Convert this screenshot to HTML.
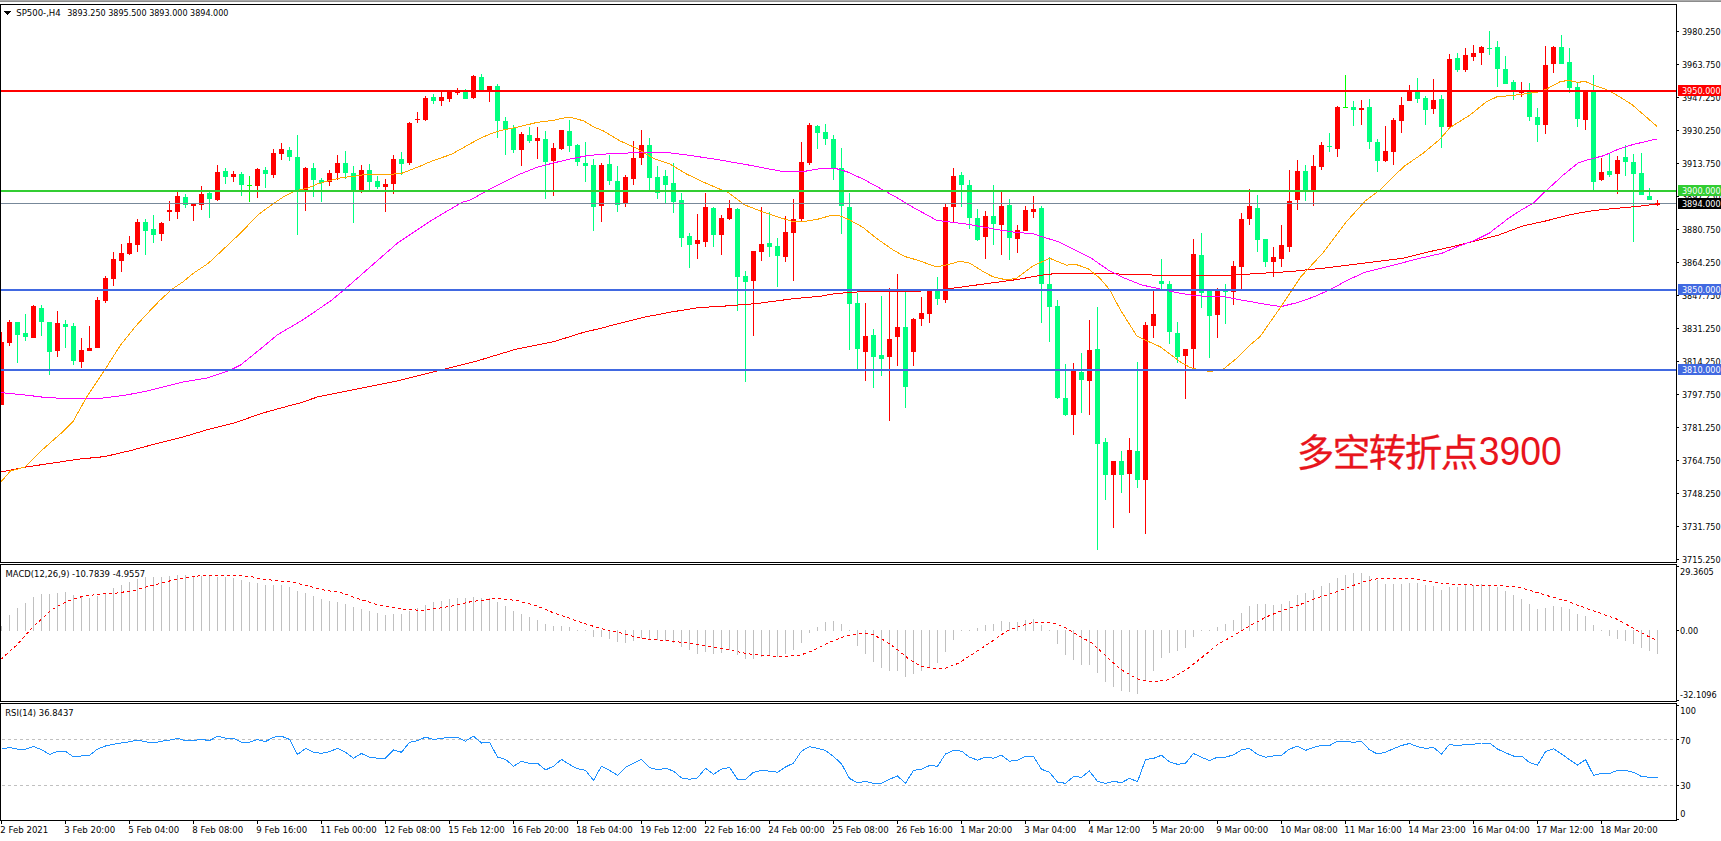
<!DOCTYPE html><html><head><meta charset="utf-8"><title>SP500 H4</title>
<style>html,body{margin:0;padding:0;background:#fff;overflow:hidden}svg{display:block}text{white-space:pre}</style></head><body>
<svg width="1721" height="841" viewBox="0 0 1721 841">
<rect x="0" y="0" width="1721" height="841" fill="#fff"/>
<rect x="0" y="0" width="1721" height="1" fill="#ababab"/>
<rect x="0" y="1" width="1721" height="1" fill="#8c8c8c"/>
<defs><clipPath id="cm"><rect x="1" y="5" width="1675" height="557"/></clipPath><clipPath id="cd"><rect x="1" y="565" width="1675" height="136"/></clipPath><clipPath id="cr"><rect x="1" y="704" width="1675" height="116"/></clipPath></defs>
<g clip-path="url(#cm)" shape-rendering="crispEdges">
<rect x="1" y="332" width="1" height="73" fill="#ff0000"/>
<rect x="-1" y="342" width="5" height="63" fill="#ff0000"/>
<rect x="9" y="320" width="1" height="26" fill="#ff0000"/>
<rect x="7" y="322" width="5" height="21" fill="#ff0000"/>
<rect x="17" y="322" width="1" height="41" fill="#00ff7f"/>
<rect x="15" y="322" width="5" height="13" fill="#00ff7f"/>
<rect x="25" y="314" width="1" height="27" fill="#00ff7f"/>
<rect x="23" y="333" width="5" height="4" fill="#00ff7f"/>
<rect x="33" y="305" width="1" height="33" fill="#ff0000"/>
<rect x="31" y="306" width="5" height="32" fill="#ff0000"/>
<rect x="41" y="305" width="1" height="31" fill="#00ff7f"/>
<rect x="39" y="308" width="5" height="14" fill="#00ff7f"/>
<rect x="49" y="322" width="1" height="53" fill="#00ff7f"/>
<rect x="47" y="322" width="5" height="30" fill="#00ff7f"/>
<rect x="57" y="311" width="1" height="46" fill="#ff0000"/>
<rect x="55" y="323" width="5" height="28" fill="#ff0000"/>
<rect x="65" y="320" width="1" height="28" fill="#00ff7f"/>
<rect x="63" y="324" width="5" height="3" fill="#00ff7f"/>
<rect x="73" y="323" width="1" height="42" fill="#00ff7f"/>
<rect x="71" y="326" width="5" height="35" fill="#00ff7f"/>
<rect x="81" y="338" width="1" height="30" fill="#ff0000"/>
<rect x="79" y="350" width="5" height="12" fill="#ff0000"/>
<rect x="89" y="326" width="1" height="25" fill="#ff0000"/>
<rect x="87" y="348" width="5" height="3" fill="#ff0000"/>
<rect x="97" y="297" width="1" height="51" fill="#ff0000"/>
<rect x="95" y="300" width="5" height="48" fill="#ff0000"/>
<rect x="105" y="276" width="1" height="27" fill="#ff0000"/>
<rect x="103" y="278" width="5" height="23" fill="#ff0000"/>
<rect x="113" y="252" width="1" height="34" fill="#ff0000"/>
<rect x="111" y="259" width="5" height="20" fill="#ff0000"/>
<rect x="121" y="244" width="1" height="28" fill="#ff0000"/>
<rect x="119" y="253" width="5" height="8" fill="#ff0000"/>
<rect x="129" y="236" width="1" height="19" fill="#ff0000"/>
<rect x="127" y="243" width="5" height="11" fill="#ff0000"/>
<rect x="137" y="219" width="1" height="33" fill="#ff0000"/>
<rect x="135" y="222" width="5" height="23" fill="#ff0000"/>
<rect x="145" y="219" width="1" height="36" fill="#00ff7f"/>
<rect x="143" y="222" width="5" height="9" fill="#00ff7f"/>
<rect x="153" y="215" width="1" height="28" fill="#00ff7f"/>
<rect x="151" y="229" width="5" height="6" fill="#00ff7f"/>
<rect x="161" y="222" width="1" height="19" fill="#ff0000"/>
<rect x="159" y="223" width="5" height="11" fill="#ff0000"/>
<rect x="169" y="201" width="1" height="20" fill="#ff0000"/>
<rect x="167" y="210" width="5" height="2" fill="#ff0000"/>
<rect x="177" y="192" width="1" height="27" fill="#ff0000"/>
<rect x="175" y="196" width="5" height="16" fill="#ff0000"/>
<rect x="185" y="194" width="1" height="14" fill="#00ff7f"/>
<rect x="183" y="197" width="5" height="8" fill="#00ff7f"/>
<rect x="193" y="204" width="1" height="17" fill="#ff0000"/>
<rect x="191" y="204" width="5" height="2" fill="#ff0000"/>
<rect x="201" y="186" width="1" height="24" fill="#ff0000"/>
<rect x="199" y="194" width="5" height="11" fill="#ff0000"/>
<rect x="209" y="192" width="1" height="26" fill="#00ff7f"/>
<rect x="207" y="193" width="5" height="6" fill="#00ff7f"/>
<rect x="217" y="165" width="1" height="36" fill="#ff0000"/>
<rect x="215" y="172" width="5" height="28" fill="#ff0000"/>
<rect x="225" y="168" width="1" height="16" fill="#00ff7f"/>
<rect x="223" y="171" width="5" height="6" fill="#00ff7f"/>
<rect x="233" y="171" width="1" height="11" fill="#ff0000"/>
<rect x="231" y="174" width="5" height="3" fill="#ff0000"/>
<rect x="241" y="172" width="1" height="24" fill="#00ff7f"/>
<rect x="239" y="174" width="5" height="11" fill="#00ff7f"/>
<rect x="249" y="176" width="1" height="26" fill="#00ff00"/>
<rect x="247" y="185" width="5" height="1" fill="#00ff00"/>
<rect x="257" y="168" width="1" height="30" fill="#ff0000"/>
<rect x="255" y="169" width="5" height="17" fill="#ff0000"/>
<rect x="265" y="167" width="1" height="21" fill="#00ff7f"/>
<rect x="263" y="170" width="5" height="4" fill="#00ff7f"/>
<rect x="273" y="149" width="1" height="29" fill="#ff0000"/>
<rect x="271" y="153" width="5" height="22" fill="#ff0000"/>
<rect x="281" y="143" width="1" height="17" fill="#ff0000"/>
<rect x="279" y="149" width="5" height="5" fill="#ff0000"/>
<rect x="289" y="147" width="1" height="14" fill="#00ff7f"/>
<rect x="287" y="150" width="5" height="7" fill="#00ff7f"/>
<rect x="297" y="135" width="1" height="100" fill="#00ff7f"/>
<rect x="295" y="157" width="5" height="33" fill="#00ff7f"/>
<rect x="305" y="167" width="1" height="44" fill="#ff0000"/>
<rect x="303" y="168" width="5" height="22" fill="#ff0000"/>
<rect x="313" y="163" width="1" height="34" fill="#00ff7f"/>
<rect x="311" y="168" width="5" height="12" fill="#00ff7f"/>
<rect x="321" y="178" width="1" height="24" fill="#00ff7f"/>
<rect x="319" y="180" width="5" height="3" fill="#00ff7f"/>
<rect x="329" y="170" width="1" height="16" fill="#ff0000"/>
<rect x="327" y="173" width="5" height="9" fill="#ff0000"/>
<rect x="337" y="155" width="1" height="25" fill="#ff0000"/>
<rect x="335" y="163" width="5" height="10" fill="#ff0000"/>
<rect x="345" y="151" width="1" height="28" fill="#00ff7f"/>
<rect x="343" y="163" width="5" height="10" fill="#00ff7f"/>
<rect x="353" y="166" width="1" height="57" fill="#00ff7f"/>
<rect x="351" y="173" width="5" height="18" fill="#00ff7f"/>
<rect x="361" y="165" width="1" height="28" fill="#ff0000"/>
<rect x="359" y="170" width="5" height="20" fill="#ff0000"/>
<rect x="369" y="164" width="1" height="26" fill="#00ff7f"/>
<rect x="367" y="170" width="5" height="12" fill="#00ff7f"/>
<rect x="377" y="176" width="1" height="13" fill="#00ff7f"/>
<rect x="375" y="181" width="5" height="6" fill="#00ff7f"/>
<rect x="385" y="179" width="1" height="33" fill="#ff0000"/>
<rect x="383" y="184" width="5" height="3" fill="#ff0000"/>
<rect x="393" y="155" width="1" height="39" fill="#ff0000"/>
<rect x="391" y="159" width="5" height="25" fill="#ff0000"/>
<rect x="401" y="152" width="1" height="23" fill="#00ff7f"/>
<rect x="399" y="159" width="5" height="5" fill="#00ff7f"/>
<rect x="409" y="122" width="1" height="43" fill="#ff0000"/>
<rect x="407" y="123" width="5" height="40" fill="#ff0000"/>
<rect x="417" y="112" width="1" height="11" fill="#ff0000"/>
<rect x="415" y="119" width="5" height="1" fill="#ff0000"/>
<rect x="425" y="96" width="1" height="25" fill="#ff0000"/>
<rect x="423" y="98" width="5" height="22" fill="#ff0000"/>
<rect x="433" y="94" width="1" height="10" fill="#00ff7f"/>
<rect x="431" y="97" width="5" height="4" fill="#00ff7f"/>
<rect x="441" y="92" width="1" height="14" fill="#ff0000"/>
<rect x="439" y="97" width="5" height="4" fill="#ff0000"/>
<rect x="449" y="91" width="1" height="11" fill="#ff0000"/>
<rect x="447" y="92" width="5" height="7" fill="#ff0000"/>
<rect x="457" y="88" width="1" height="7" fill="#ff0000"/>
<rect x="455" y="91" width="5" height="2" fill="#ff0000"/>
<rect x="465" y="89" width="1" height="10" fill="#00ff7f"/>
<rect x="463" y="92" width="5" height="7" fill="#00ff7f"/>
<rect x="473" y="75" width="1" height="24" fill="#ff0000"/>
<rect x="471" y="76" width="5" height="22" fill="#ff0000"/>
<rect x="481" y="74" width="1" height="16" fill="#00ff7f"/>
<rect x="479" y="77" width="5" height="13" fill="#00ff7f"/>
<rect x="489" y="86" width="1" height="16" fill="#ff0000"/>
<rect x="487" y="86" width="5" height="5" fill="#ff0000"/>
<rect x="497" y="84" width="1" height="54" fill="#00ff7f"/>
<rect x="495" y="86" width="5" height="35" fill="#00ff7f"/>
<rect x="505" y="117" width="1" height="38" fill="#00ff7f"/>
<rect x="503" y="121" width="5" height="8" fill="#00ff7f"/>
<rect x="513" y="125" width="1" height="28" fill="#00ff7f"/>
<rect x="511" y="128" width="5" height="22" fill="#00ff7f"/>
<rect x="521" y="132" width="1" height="34" fill="#ff0000"/>
<rect x="519" y="134" width="5" height="16" fill="#ff0000"/>
<rect x="529" y="127" width="1" height="16" fill="#00ff7f"/>
<rect x="527" y="135" width="5" height="6" fill="#00ff7f"/>
<rect x="537" y="127" width="1" height="32" fill="#ff0000"/>
<rect x="535" y="138" width="5" height="3" fill="#ff0000"/>
<rect x="545" y="131" width="1" height="68" fill="#00ff7f"/>
<rect x="543" y="139" width="5" height="23" fill="#00ff7f"/>
<rect x="553" y="143" width="1" height="53" fill="#ff0000"/>
<rect x="551" y="148" width="5" height="13" fill="#ff0000"/>
<rect x="561" y="130" width="1" height="20" fill="#ff0000"/>
<rect x="559" y="130" width="5" height="19" fill="#ff0000"/>
<rect x="569" y="120" width="1" height="32" fill="#00ff7f"/>
<rect x="567" y="131" width="5" height="15" fill="#00ff7f"/>
<rect x="577" y="144" width="1" height="22" fill="#00ff7f"/>
<rect x="575" y="145" width="5" height="17" fill="#00ff7f"/>
<rect x="585" y="142" width="1" height="40" fill="#00ff7f"/>
<rect x="583" y="163" width="5" height="3" fill="#00ff7f"/>
<rect x="593" y="159" width="1" height="72" fill="#00ff7f"/>
<rect x="591" y="165" width="5" height="42" fill="#00ff7f"/>
<rect x="601" y="163" width="1" height="59" fill="#ff0000"/>
<rect x="599" y="165" width="5" height="41" fill="#ff0000"/>
<rect x="609" y="155" width="1" height="30" fill="#00ff7f"/>
<rect x="607" y="164" width="5" height="17" fill="#00ff7f"/>
<rect x="617" y="166" width="1" height="46" fill="#00ff7f"/>
<rect x="615" y="181" width="5" height="24" fill="#00ff7f"/>
<rect x="625" y="175" width="1" height="32" fill="#ff0000"/>
<rect x="623" y="177" width="5" height="27" fill="#ff0000"/>
<rect x="633" y="141" width="1" height="44" fill="#ff0000"/>
<rect x="631" y="158" width="5" height="21" fill="#ff0000"/>
<rect x="641" y="130" width="1" height="35" fill="#ff0000"/>
<rect x="639" y="145" width="5" height="13" fill="#ff0000"/>
<rect x="649" y="138" width="1" height="52" fill="#00ff7f"/>
<rect x="647" y="145" width="5" height="33" fill="#00ff7f"/>
<rect x="657" y="166" width="1" height="33" fill="#00ff7f"/>
<rect x="655" y="177" width="5" height="16" fill="#00ff7f"/>
<rect x="665" y="170" width="1" height="34" fill="#00ff7f"/>
<rect x="663" y="176" width="5" height="9" fill="#00ff7f"/>
<rect x="673" y="163" width="1" height="50" fill="#00ff7f"/>
<rect x="671" y="183" width="5" height="19" fill="#00ff7f"/>
<rect x="681" y="193" width="1" height="54" fill="#00ff7f"/>
<rect x="679" y="200" width="5" height="38" fill="#00ff7f"/>
<rect x="689" y="233" width="1" height="35" fill="#00ff7f"/>
<rect x="687" y="236" width="5" height="9" fill="#00ff7f"/>
<rect x="697" y="214" width="1" height="45" fill="#ff0000"/>
<rect x="695" y="240" width="5" height="4" fill="#ff0000"/>
<rect x="705" y="193" width="1" height="54" fill="#ff0000"/>
<rect x="703" y="207" width="5" height="35" fill="#ff0000"/>
<rect x="713" y="207" width="1" height="40" fill="#00ff7f"/>
<rect x="711" y="208" width="5" height="27" fill="#00ff7f"/>
<rect x="721" y="215" width="1" height="40" fill="#ff0000"/>
<rect x="719" y="218" width="5" height="17" fill="#ff0000"/>
<rect x="729" y="200" width="1" height="20" fill="#ff0000"/>
<rect x="727" y="208" width="5" height="11" fill="#ff0000"/>
<rect x="737" y="208" width="1" height="103" fill="#00ff7f"/>
<rect x="735" y="209" width="5" height="68" fill="#00ff7f"/>
<rect x="745" y="271" width="1" height="111" fill="#00ff7f"/>
<rect x="743" y="276" width="5" height="6" fill="#00ff7f"/>
<rect x="753" y="251" width="1" height="85" fill="#ff0000"/>
<rect x="751" y="251" width="5" height="30" fill="#ff0000"/>
<rect x="761" y="207" width="1" height="54" fill="#ff0000"/>
<rect x="759" y="244" width="5" height="8" fill="#ff0000"/>
<rect x="769" y="212" width="1" height="45" fill="#00ff7f"/>
<rect x="767" y="243" width="5" height="4" fill="#00ff7f"/>
<rect x="777" y="238" width="1" height="49" fill="#00ff7f"/>
<rect x="775" y="246" width="5" height="10" fill="#00ff7f"/>
<rect x="785" y="216" width="1" height="46" fill="#ff0000"/>
<rect x="783" y="232" width="5" height="25" fill="#ff0000"/>
<rect x="793" y="199" width="1" height="82" fill="#ff0000"/>
<rect x="791" y="219" width="5" height="14" fill="#ff0000"/>
<rect x="801" y="142" width="1" height="79" fill="#ff0000"/>
<rect x="799" y="162" width="5" height="57" fill="#ff0000"/>
<rect x="809" y="123" width="1" height="42" fill="#ff0000"/>
<rect x="807" y="125" width="5" height="38" fill="#ff0000"/>
<rect x="817" y="125" width="1" height="24" fill="#00ff7f"/>
<rect x="815" y="126" width="5" height="7" fill="#00ff7f"/>
<rect x="825" y="124" width="1" height="21" fill="#00ff7f"/>
<rect x="823" y="132" width="5" height="7" fill="#00ff7f"/>
<rect x="833" y="135" width="1" height="45" fill="#00ff7f"/>
<rect x="831" y="139" width="5" height="30" fill="#00ff7f"/>
<rect x="841" y="148" width="1" height="86" fill="#00ff7f"/>
<rect x="839" y="168" width="5" height="38" fill="#00ff7f"/>
<rect x="849" y="193" width="1" height="157" fill="#00ff7f"/>
<rect x="847" y="207" width="5" height="97" fill="#00ff7f"/>
<rect x="857" y="293" width="1" height="76" fill="#00ff7f"/>
<rect x="855" y="303" width="5" height="46" fill="#00ff7f"/>
<rect x="865" y="303" width="1" height="78" fill="#ff0000"/>
<rect x="863" y="336" width="5" height="16" fill="#ff0000"/>
<rect x="873" y="329" width="1" height="59" fill="#00ff7f"/>
<rect x="871" y="335" width="5" height="22" fill="#00ff7f"/>
<rect x="881" y="296" width="1" height="80" fill="#00ff7f"/>
<rect x="879" y="355" width="5" height="4" fill="#00ff7f"/>
<rect x="889" y="288" width="1" height="133" fill="#ff0000"/>
<rect x="887" y="339" width="5" height="18" fill="#ff0000"/>
<rect x="897" y="274" width="1" height="92" fill="#ff0000"/>
<rect x="895" y="327" width="5" height="10" fill="#ff0000"/>
<rect x="905" y="292" width="1" height="116" fill="#00ff7f"/>
<rect x="903" y="327" width="5" height="60" fill="#00ff7f"/>
<rect x="913" y="318" width="1" height="48" fill="#ff0000"/>
<rect x="911" y="319" width="5" height="33" fill="#ff0000"/>
<rect x="921" y="297" width="1" height="29" fill="#ff0000"/>
<rect x="919" y="313" width="5" height="6" fill="#ff0000"/>
<rect x="929" y="291" width="1" height="32" fill="#ff0000"/>
<rect x="927" y="291" width="5" height="23" fill="#ff0000"/>
<rect x="937" y="277" width="1" height="28" fill="#00ff7f"/>
<rect x="935" y="291" width="5" height="8" fill="#00ff7f"/>
<rect x="945" y="204" width="1" height="99" fill="#ff0000"/>
<rect x="943" y="207" width="5" height="93" fill="#ff0000"/>
<rect x="953" y="168" width="1" height="54" fill="#ff0000"/>
<rect x="951" y="176" width="5" height="31" fill="#ff0000"/>
<rect x="961" y="172" width="1" height="35" fill="#00ff7f"/>
<rect x="959" y="175" width="5" height="10" fill="#00ff7f"/>
<rect x="969" y="180" width="1" height="49" fill="#00ff7f"/>
<rect x="967" y="185" width="5" height="33" fill="#00ff7f"/>
<rect x="977" y="209" width="1" height="32" fill="#00ff7f"/>
<rect x="975" y="218" width="5" height="22" fill="#00ff7f"/>
<rect x="985" y="211" width="1" height="48" fill="#ff0000"/>
<rect x="983" y="216" width="5" height="21" fill="#ff0000"/>
<rect x="993" y="185" width="1" height="60" fill="#00ff7f"/>
<rect x="991" y="216" width="5" height="8" fill="#00ff7f"/>
<rect x="1001" y="192" width="1" height="63" fill="#ff0000"/>
<rect x="999" y="206" width="5" height="19" fill="#ff0000"/>
<rect x="1009" y="199" width="1" height="61" fill="#00ff7f"/>
<rect x="1007" y="205" width="5" height="33" fill="#00ff7f"/>
<rect x="1017" y="225" width="1" height="28" fill="#ff0000"/>
<rect x="1015" y="230" width="5" height="9" fill="#ff0000"/>
<rect x="1025" y="206" width="1" height="25" fill="#ff0000"/>
<rect x="1023" y="210" width="5" height="21" fill="#ff0000"/>
<rect x="1033" y="196" width="1" height="22" fill="#ff0000"/>
<rect x="1031" y="209" width="5" height="3" fill="#ff0000"/>
<rect x="1041" y="206" width="1" height="117" fill="#00ff7f"/>
<rect x="1039" y="208" width="5" height="76" fill="#00ff7f"/>
<rect x="1049" y="257" width="1" height="85" fill="#00ff7f"/>
<rect x="1047" y="284" width="5" height="23" fill="#00ff7f"/>
<rect x="1057" y="300" width="1" height="99" fill="#00ff7f"/>
<rect x="1055" y="306" width="5" height="92" fill="#00ff7f"/>
<rect x="1065" y="364" width="1" height="52" fill="#00ff7f"/>
<rect x="1063" y="398" width="5" height="17" fill="#00ff7f"/>
<rect x="1073" y="363" width="1" height="72" fill="#ff0000"/>
<rect x="1071" y="370" width="5" height="45" fill="#ff0000"/>
<rect x="1081" y="353" width="1" height="60" fill="#00ff7f"/>
<rect x="1079" y="372" width="5" height="8" fill="#00ff7f"/>
<rect x="1089" y="320" width="1" height="95" fill="#ff0000"/>
<rect x="1087" y="350" width="5" height="31" fill="#ff0000"/>
<rect x="1097" y="307" width="1" height="243" fill="#00ff7f"/>
<rect x="1095" y="349" width="5" height="95" fill="#00ff7f"/>
<rect x="1105" y="438" width="1" height="62" fill="#00ff7f"/>
<rect x="1103" y="442" width="5" height="33" fill="#00ff7f"/>
<rect x="1113" y="461" width="1" height="67" fill="#ff0000"/>
<rect x="1111" y="461" width="5" height="14" fill="#ff0000"/>
<rect x="1121" y="451" width="1" height="42" fill="#00ff7f"/>
<rect x="1119" y="461" width="5" height="14" fill="#00ff7f"/>
<rect x="1129" y="438" width="1" height="75" fill="#ff0000"/>
<rect x="1127" y="450" width="5" height="24" fill="#ff0000"/>
<rect x="1137" y="362" width="1" height="126" fill="#00ff7f"/>
<rect x="1135" y="451" width="5" height="29" fill="#00ff7f"/>
<rect x="1145" y="322" width="1" height="212" fill="#ff0000"/>
<rect x="1143" y="325" width="5" height="155" fill="#ff0000"/>
<rect x="1153" y="291" width="1" height="47" fill="#ff0000"/>
<rect x="1151" y="314" width="5" height="12" fill="#ff0000"/>
<rect x="1161" y="259" width="1" height="30" fill="#00ff7f"/>
<rect x="1159" y="281" width="5" height="3" fill="#00ff7f"/>
<rect x="1169" y="281" width="1" height="63" fill="#00ff7f"/>
<rect x="1167" y="284" width="5" height="48" fill="#00ff7f"/>
<rect x="1177" y="322" width="1" height="41" fill="#00ff7f"/>
<rect x="1175" y="333" width="5" height="24" fill="#00ff7f"/>
<rect x="1185" y="349" width="1" height="50" fill="#ff0000"/>
<rect x="1183" y="349" width="5" height="7" fill="#ff0000"/>
<rect x="1193" y="239" width="1" height="130" fill="#ff0000"/>
<rect x="1191" y="254" width="5" height="95" fill="#ff0000"/>
<rect x="1201" y="233" width="1" height="75" fill="#00ff7f"/>
<rect x="1199" y="255" width="5" height="38" fill="#00ff7f"/>
<rect x="1209" y="291" width="1" height="67" fill="#00ff7f"/>
<rect x="1207" y="291" width="5" height="25" fill="#00ff7f"/>
<rect x="1217" y="288" width="1" height="50" fill="#ff0000"/>
<rect x="1215" y="291" width="5" height="24" fill="#ff0000"/>
<rect x="1225" y="284" width="1" height="40" fill="#00ff7f"/>
<rect x="1223" y="291" width="5" height="1" fill="#00ff7f"/>
<rect x="1233" y="261" width="1" height="44" fill="#ff0000"/>
<rect x="1231" y="266" width="5" height="26" fill="#ff0000"/>
<rect x="1241" y="213" width="1" height="76" fill="#ff0000"/>
<rect x="1239" y="219" width="5" height="48" fill="#ff0000"/>
<rect x="1249" y="189" width="1" height="36" fill="#ff0000"/>
<rect x="1247" y="206" width="5" height="13" fill="#ff0000"/>
<rect x="1257" y="195" width="1" height="57" fill="#00ff7f"/>
<rect x="1255" y="208" width="5" height="32" fill="#00ff7f"/>
<rect x="1265" y="239" width="1" height="28" fill="#00ff7f"/>
<rect x="1263" y="239" width="5" height="23" fill="#00ff7f"/>
<rect x="1273" y="247" width="1" height="30" fill="#ff0000"/>
<rect x="1271" y="257" width="5" height="5" fill="#ff0000"/>
<rect x="1281" y="225" width="1" height="42" fill="#ff0000"/>
<rect x="1279" y="245" width="5" height="14" fill="#ff0000"/>
<rect x="1289" y="170" width="1" height="82" fill="#ff0000"/>
<rect x="1287" y="201" width="5" height="46" fill="#ff0000"/>
<rect x="1297" y="160" width="1" height="50" fill="#ff0000"/>
<rect x="1295" y="171" width="5" height="29" fill="#ff0000"/>
<rect x="1305" y="165" width="1" height="36" fill="#00ff7f"/>
<rect x="1303" y="171" width="5" height="19" fill="#00ff7f"/>
<rect x="1313" y="155" width="1" height="51" fill="#ff0000"/>
<rect x="1311" y="166" width="5" height="24" fill="#ff0000"/>
<rect x="1321" y="142" width="1" height="28" fill="#ff0000"/>
<rect x="1319" y="145" width="5" height="22" fill="#ff0000"/>
<rect x="1329" y="133" width="1" height="19" fill="#00ff7f"/>
<rect x="1327" y="146" width="5" height="1" fill="#00ff7f"/>
<rect x="1337" y="106" width="1" height="51" fill="#ff0000"/>
<rect x="1335" y="107" width="5" height="42" fill="#ff0000"/>
<rect x="1345" y="75" width="1" height="32" fill="#00ff00"/>
<rect x="1343" y="107" width="5" height="1" fill="#00ff00"/>
<rect x="1353" y="101" width="1" height="25" fill="#00ff7f"/>
<rect x="1351" y="107" width="5" height="3" fill="#00ff7f"/>
<rect x="1361" y="100" width="1" height="25" fill="#ff0000"/>
<rect x="1359" y="108" width="5" height="2" fill="#ff0000"/>
<rect x="1369" y="99" width="1" height="50" fill="#00ff7f"/>
<rect x="1367" y="107" width="5" height="35" fill="#00ff7f"/>
<rect x="1377" y="139" width="1" height="33" fill="#00ff7f"/>
<rect x="1375" y="142" width="5" height="19" fill="#00ff7f"/>
<rect x="1385" y="126" width="1" height="36" fill="#ff0000"/>
<rect x="1383" y="151" width="5" height="10" fill="#ff0000"/>
<rect x="1393" y="118" width="1" height="47" fill="#ff0000"/>
<rect x="1391" y="120" width="5" height="32" fill="#ff0000"/>
<rect x="1401" y="97" width="1" height="36" fill="#ff0000"/>
<rect x="1399" y="105" width="5" height="16" fill="#ff0000"/>
<rect x="1409" y="85" width="1" height="16" fill="#ff0000"/>
<rect x="1407" y="92" width="5" height="9" fill="#ff0000"/>
<rect x="1417" y="78" width="1" height="25" fill="#00ff7f"/>
<rect x="1415" y="92" width="5" height="7" fill="#00ff7f"/>
<rect x="1425" y="96" width="1" height="29" fill="#00ff7f"/>
<rect x="1423" y="98" width="5" height="12" fill="#00ff7f"/>
<rect x="1433" y="79" width="1" height="35" fill="#ff0000"/>
<rect x="1431" y="100" width="5" height="9" fill="#ff0000"/>
<rect x="1441" y="95" width="1" height="53" fill="#00ff7f"/>
<rect x="1439" y="99" width="5" height="28" fill="#00ff7f"/>
<rect x="1449" y="54" width="1" height="74" fill="#ff0000"/>
<rect x="1447" y="59" width="5" height="68" fill="#ff0000"/>
<rect x="1457" y="53" width="1" height="19" fill="#00ff7f"/>
<rect x="1455" y="58" width="5" height="12" fill="#00ff7f"/>
<rect x="1465" y="48" width="1" height="24" fill="#ff0000"/>
<rect x="1463" y="55" width="5" height="15" fill="#ff0000"/>
<rect x="1473" y="45" width="1" height="16" fill="#ff0000"/>
<rect x="1471" y="53" width="5" height="4" fill="#ff0000"/>
<rect x="1481" y="46" width="1" height="19" fill="#ff0000"/>
<rect x="1479" y="47" width="5" height="6" fill="#ff0000"/>
<rect x="1489" y="31" width="1" height="24" fill="#00ff7f"/>
<rect x="1487" y="48" width="5" height="1" fill="#00ff7f"/>
<rect x="1497" y="41" width="1" height="46" fill="#00ff7f"/>
<rect x="1495" y="47" width="5" height="22" fill="#00ff7f"/>
<rect x="1505" y="56" width="1" height="28" fill="#00ff7f"/>
<rect x="1503" y="69" width="5" height="15" fill="#00ff7f"/>
<rect x="1513" y="80" width="1" height="20" fill="#00ff7f"/>
<rect x="1511" y="82" width="5" height="10" fill="#00ff7f"/>
<rect x="1521" y="82" width="1" height="15" fill="#ff0000"/>
<rect x="1519" y="91" width="5" height="2" fill="#ff0000"/>
<rect x="1529" y="83" width="1" height="38" fill="#00ff7f"/>
<rect x="1527" y="92" width="5" height="25" fill="#00ff7f"/>
<rect x="1537" y="108" width="1" height="34" fill="#00ff7f"/>
<rect x="1535" y="117" width="5" height="8" fill="#00ff7f"/>
<rect x="1545" y="46" width="1" height="88" fill="#ff0000"/>
<rect x="1543" y="65" width="5" height="60" fill="#ff0000"/>
<rect x="1553" y="46" width="1" height="27" fill="#ff0000"/>
<rect x="1551" y="47" width="5" height="17" fill="#ff0000"/>
<rect x="1561" y="35" width="1" height="29" fill="#00ff7f"/>
<rect x="1559" y="47" width="5" height="17" fill="#00ff7f"/>
<rect x="1569" y="48" width="1" height="45" fill="#00ff7f"/>
<rect x="1567" y="62" width="5" height="26" fill="#00ff7f"/>
<rect x="1577" y="83" width="1" height="44" fill="#00ff7f"/>
<rect x="1575" y="87" width="5" height="32" fill="#00ff7f"/>
<rect x="1585" y="91" width="1" height="39" fill="#ff0000"/>
<rect x="1583" y="91" width="5" height="29" fill="#ff0000"/>
<rect x="1593" y="75" width="1" height="115" fill="#00ff7f"/>
<rect x="1591" y="92" width="5" height="90" fill="#00ff7f"/>
<rect x="1601" y="158" width="1" height="23" fill="#ff0000"/>
<rect x="1599" y="172" width="5" height="8" fill="#ff0000"/>
<rect x="1609" y="154" width="1" height="23" fill="#00ff7f"/>
<rect x="1607" y="171" width="5" height="4" fill="#00ff7f"/>
<rect x="1617" y="156" width="1" height="38" fill="#ff0000"/>
<rect x="1615" y="160" width="5" height="14" fill="#ff0000"/>
<rect x="1625" y="145" width="1" height="31" fill="#00ff7f"/>
<rect x="1623" y="157" width="5" height="5" fill="#00ff7f"/>
<rect x="1633" y="154" width="1" height="88" fill="#00ff7f"/>
<rect x="1631" y="162" width="5" height="12" fill="#00ff7f"/>
<rect x="1641" y="153" width="1" height="42" fill="#00ff7f"/>
<rect x="1639" y="173" width="5" height="22" fill="#00ff7f"/>
<rect x="1649" y="188" width="1" height="12" fill="#00ff7f"/>
<rect x="1647" y="196" width="5" height="4" fill="#00ff7f"/>
<rect x="1657" y="200" width="1" height="5" fill="#ff0000"/>
</g>
<g clip-path="url(#cm)" fill="none" stroke-width="1" shape-rendering="crispEdges">
<polyline points="0.0,472.3 26.2,467.0 52.3,463.1 78.5,459.2 104.6,456.6 130.8,450.5 156.9,443.5 183.1,437.0 209.3,429.1 235.4,422.6 261.6,413.4 280.0,408.2 300.0,403.0 318.0,396.8 356.1,389.2 394.2,381.6 443.6,369.4 477.9,360.7 515.9,349.2 554.0,341.6 584.4,332.1 600.0,328.5 614.9,324.5 645.3,316.9 660.0,314.3 671.9,311.9 700.0,307.4 718.0,306.6 756.1,303.6 794.2,298.6 820.0,296.3 832.2,294.1 851.2,292.2 877.0,291.4 916.6,291.4 949.9,288.6 983.2,284.1 1016.5,279.6 1041.5,275.2 1049.8,274.1 1066.5,273.2 1099.8,273.2 1133.1,274.6 1149.8,274.9 1166.4,275.7 1198.3,275.2 1231.6,275.2 1256.5,273.6 1289.8,271.6 1323.1,268.2 1356.4,264.1 1389.7,259.9 1403.8,258.1 1427.5,252.1 1451.3,246.9 1475.1,241.0 1498.8,235.0 1522.6,226.0 1546.4,220.8 1570.2,214.6 1593.9,210.5 1617.7,208.2 1636.6,206.5 1645.0,205.5 1653.0,204.5 1655.5,204.5" stroke="#ff0000"/>
<polyline points="0.0,392.5 26.2,395.1 47.1,397.7 70.6,398.5 99.4,398.5 125.6,395.1 146.5,391.2 183.1,382.0 206.6,378.1 230.2,370.2 240.6,365.0 261.6,348.0 277.3,334.9 302.8,319.9 331.7,300.2 350.0,284.7 366.7,270.0 380.0,258.3 398.0,242.7 432.2,219.9 462.6,202.0 470.0,200.2 488.3,190.0 510.0,179.2 520.0,174.1 536.6,167.4 553.3,163.0 570.0,159.1 586.6,155.8 603.2,154.1 619.9,153.6 636.5,152.4 653.2,152.4 669.8,152.9 686.5,154.9 703.1,157.4 719.8,159.9 736.4,162.9 753.1,165.8 769.8,169.1 783.1,171.6 803.3,171.6 821.6,168.3 835.0,168.3 846.6,171.6 863.2,179.1 879.9,188.2 896.5,197.4 913.2,207.4 929.8,216.5 936.6,220.3 949.9,222.0 966.6,224.1 983.2,227.0 999.9,230.0 1016.5,232.5 1033.2,233.6 1041.5,236.6 1058.1,241.6 1074.8,249.9 1091.4,258.3 1108.1,269.9 1124.7,278.2 1141.4,284.9 1156.6,288.2 1173.3,291.9 1189.9,294.9 1206.6,296.5 1223.2,296.5 1236.7,299.2 1260.0,303.3 1273.2,305.5 1281.5,306.5 1298.1,302.4 1314.8,296.5 1331.4,289.0 1348.1,279.9 1364.7,272.4 1381.4,268.2 1398.0,264.0 1415.7,259.3 1441.8,253.3 1458.4,246.2 1475.1,240.2 1489.3,233.1 1508.4,218.4 1520.0,210.8 1533.3,203.0 1545.0,191.7 1563.3,175.0 1578.3,162.8 1590.0,159.2 1603.3,155.8 1616.6,150.0 1626.6,146.3 1636.6,143.7 1646.6,141.3 1656.5,139.1" stroke="#ff00ff"/>
<polyline points="0.0,482.0 1.3,481.4 10.5,471.0 24.8,467.0 39.2,452.6 62.8,431.7 73.2,421.2 86.3,397.7 104.6,370.2 120.3,345.4 136.0,325.8 151.7,308.8 160.0,300.2 173.3,288.3 183.3,281.7 193.3,273.3 208.3,263.3 221.7,250.8 236.7,236.7 250.0,223.3 260.0,213.3 273.3,203.7 283.3,197.0 291.7,192.5 300.0,189.7 307.5,188.3 316.7,184.2 330.0,180.4 342.5,177.5 355.0,176.2 365.0,174.6 388.3,174.6 401.7,173.3 409.2,170.4 420.0,166.2 432.2,160.9 451.2,154.4 477.9,139.5 490.0,134.0 500.7,130.4 520.0,126.6 536.6,122.5 553.3,120.3 566.6,117.5 571.6,117.5 583.3,120.8 594.9,127.5 603.2,130.8 619.9,140.8 636.5,148.3 653.2,158.3 669.8,164.0 686.5,174.0 703.1,182.0 719.8,189.1 728.1,192.4 744.7,204.9 759.9,210.8 776.5,216.6 793.2,221.6 803.2,221.6 818.2,219.1 831.5,215.3 839.8,215.8 849.8,220.0 863.1,227.5 876.4,238.3 893.1,250.0 904.7,256.5 916.6,259.9 936.6,266.9 946.6,264.9 959.9,261.3 969.9,263.2 983.2,271.6 993.2,276.9 1006.5,279.9 1016.5,278.2 1033.2,265.7 1049.8,258.3 1066.5,265.2 1074.8,264.1 1088.1,268.6 1099.8,278.2 1109.8,289.9 1120.0,309.2 1128.0,322.0 1136.7,335.8 1146.7,340.8 1160.0,346.7 1170.0,354.2 1180.0,361.7 1190.0,367.5 1196.7,369.2 1210.0,371.5 1223.3,369.2 1236.7,358.3 1250.0,345.0 1260.0,336.7 1281.7,305.5 1300.7,276.9 1323.5,252.2 1346.4,221.8 1365.4,200.8 1380.0,189.9 1403.8,166.6 1422.8,153.5 1440.0,139.2 1450.0,127.5 1470.0,115.0 1486.6,101.6 1496.6,97.0 1516.5,95.0 1538.2,92.0 1546.5,89.1 1559.8,81.9 1568.2,80.3 1578.1,82.4 1584.8,81.3 1593.1,84.9 1606.4,89.6 1616.4,94.9 1631.4,104.1 1644.7,115.7 1657.2,126.5" stroke="#ffa500"/>
</g>
<g shape-rendering="crispEdges">
<rect x="1" y="90" width="1675" height="2" fill="#ff0000"/>
<rect x="1" y="190" width="1675" height="2" fill="#32cd32"/>
<rect x="1" y="289" width="1675" height="2" fill="#4169e1"/>
<rect x="1" y="369" width="1675" height="2" fill="#4169e1"/>
<rect x="1" y="203" width="1675" height="1" fill="#778899"/>
<rect x="1657" y="200" width="1" height="6" fill="#ff0000"/>
<rect x="1655" y="203" width="5" height="2" fill="#ff0000"/>
</g>
<text x="1296.7" y="466.3" fill="#e8141c" stroke="#e8141c" stroke-width="0.3" font-size="37.5" letter-spacing="-1.5" font-family="'Liberation Sans','Noto Sans CJK SC',sans-serif">多空转折点</text>
<text transform="translate(1478.8 465.1) scale(0.92 1)" fill="#e8141c" font-size="40.6" font-family="'Liberation Sans','Noto Sans CJK SC',sans-serif">3900</text>
<path d="M4 11h7v1h-1v1h-1v1h-1v1h-1v-1h-1v-1h-1v-1h-1z" fill="#000"/>
<text transform="translate(16.22 16) scale(0.9 1)" fill="#000" font-size="9.5" font-family="'DejaVu Sans','Liberation Sans',sans-serif">SP500-,H4</text>
<text transform="translate(67.23 16) scale(0.848 1)" fill="#000" font-size="9.5" font-family="'DejaVu Sans','Liberation Sans',sans-serif">3893.250 3895.500 3893.000 3894.000</text>
<g clip-path="url(#cd)" shape-rendering="crispEdges">
<rect x="1" y="626" width="1" height="5" fill="#c0c0c0"/>
<rect x="9" y="615" width="1" height="16" fill="#c0c0c0"/>
<rect x="17" y="608" width="1" height="23" fill="#c0c0c0"/>
<rect x="25" y="603" width="1" height="28" fill="#c0c0c0"/>
<rect x="33" y="597" width="1" height="34" fill="#c0c0c0"/>
<rect x="41" y="594" width="1" height="37" fill="#c0c0c0"/>
<rect x="49" y="594" width="1" height="37" fill="#c0c0c0"/>
<rect x="57" y="593" width="1" height="38" fill="#c0c0c0"/>
<rect x="65" y="592" width="1" height="39" fill="#c0c0c0"/>
<rect x="73" y="595" width="1" height="36" fill="#c0c0c0"/>
<rect x="81" y="597" width="1" height="34" fill="#c0c0c0"/>
<rect x="89" y="598" width="1" height="33" fill="#c0c0c0"/>
<rect x="97" y="596" width="1" height="35" fill="#c0c0c0"/>
<rect x="105" y="593" width="1" height="38" fill="#c0c0c0"/>
<rect x="113" y="588" width="1" height="43" fill="#c0c0c0"/>
<rect x="121" y="585" width="1" height="46" fill="#c0c0c0"/>
<rect x="129" y="582" width="1" height="49" fill="#c0c0c0"/>
<rect x="137" y="579" width="1" height="52" fill="#c0c0c0"/>
<rect x="145" y="577" width="1" height="54" fill="#c0c0c0"/>
<rect x="153" y="577" width="1" height="54" fill="#c0c0c0"/>
<rect x="161" y="577" width="1" height="54" fill="#c0c0c0"/>
<rect x="169" y="576" width="1" height="55" fill="#c0c0c0"/>
<rect x="177" y="575" width="1" height="56" fill="#c0c0c0"/>
<rect x="185" y="575" width="1" height="56" fill="#c0c0c0"/>
<rect x="193" y="576" width="1" height="55" fill="#c0c0c0"/>
<rect x="201" y="576" width="1" height="55" fill="#c0c0c0"/>
<rect x="209" y="576" width="1" height="55" fill="#c0c0c0"/>
<rect x="217" y="577" width="1" height="54" fill="#c0c0c0"/>
<rect x="225" y="577" width="1" height="54" fill="#c0c0c0"/>
<rect x="233" y="578" width="1" height="53" fill="#c0c0c0"/>
<rect x="241" y="580" width="1" height="51" fill="#c0c0c0"/>
<rect x="249" y="582" width="1" height="49" fill="#c0c0c0"/>
<rect x="257" y="583" width="1" height="48" fill="#c0c0c0"/>
<rect x="265" y="585" width="1" height="46" fill="#c0c0c0"/>
<rect x="273" y="585" width="1" height="46" fill="#c0c0c0"/>
<rect x="281" y="585" width="1" height="46" fill="#c0c0c0"/>
<rect x="289" y="587" width="1" height="44" fill="#c0c0c0"/>
<rect x="297" y="591" width="1" height="40" fill="#c0c0c0"/>
<rect x="305" y="593" width="1" height="38" fill="#c0c0c0"/>
<rect x="313" y="596" width="1" height="35" fill="#c0c0c0"/>
<rect x="321" y="599" width="1" height="32" fill="#c0c0c0"/>
<rect x="329" y="601" width="1" height="30" fill="#c0c0c0"/>
<rect x="337" y="602" width="1" height="29" fill="#c0c0c0"/>
<rect x="345" y="604" width="1" height="27" fill="#c0c0c0"/>
<rect x="353" y="607" width="1" height="24" fill="#c0c0c0"/>
<rect x="361" y="609" width="1" height="22" fill="#c0c0c0"/>
<rect x="369" y="611" width="1" height="20" fill="#c0c0c0"/>
<rect x="377" y="613" width="1" height="18" fill="#c0c0c0"/>
<rect x="385" y="615" width="1" height="16" fill="#c0c0c0"/>
<rect x="393" y="614" width="1" height="17" fill="#c0c0c0"/>
<rect x="401" y="614" width="1" height="17" fill="#c0c0c0"/>
<rect x="409" y="611" width="1" height="20" fill="#c0c0c0"/>
<rect x="417" y="608" width="1" height="23" fill="#c0c0c0"/>
<rect x="425" y="605" width="1" height="26" fill="#c0c0c0"/>
<rect x="433" y="602" width="1" height="29" fill="#c0c0c0"/>
<rect x="441" y="601" width="1" height="30" fill="#c0c0c0"/>
<rect x="449" y="599" width="1" height="32" fill="#c0c0c0"/>
<rect x="457" y="598" width="1" height="33" fill="#c0c0c0"/>
<rect x="465" y="598" width="1" height="33" fill="#c0c0c0"/>
<rect x="473" y="597" width="1" height="34" fill="#c0c0c0"/>
<rect x="481" y="598" width="1" height="33" fill="#c0c0c0"/>
<rect x="489" y="598" width="1" height="33" fill="#c0c0c0"/>
<rect x="497" y="602" width="1" height="29" fill="#c0c0c0"/>
<rect x="505" y="606" width="1" height="25" fill="#c0c0c0"/>
<rect x="513" y="611" width="1" height="20" fill="#c0c0c0"/>
<rect x="521" y="614" width="1" height="17" fill="#c0c0c0"/>
<rect x="529" y="617" width="1" height="14" fill="#c0c0c0"/>
<rect x="537" y="620" width="1" height="11" fill="#c0c0c0"/>
<rect x="545" y="624" width="1" height="7" fill="#c0c0c0"/>
<rect x="553" y="626" width="1" height="5" fill="#c0c0c0"/>
<rect x="561" y="626" width="1" height="5" fill="#c0c0c0"/>
<rect x="569" y="627" width="1" height="4" fill="#c0c0c0"/>
<rect x="577" y="630" width="1" height="1" fill="#c0c0c0"/>
<rect x="585" y="630" width="1" height="1" fill="#c0c0c0"/>
<rect x="593" y="630" width="1" height="7" fill="#c0c0c0"/>
<rect x="601" y="630" width="1" height="7" fill="#c0c0c0"/>
<rect x="609" y="630" width="1" height="9" fill="#c0c0c0"/>
<rect x="617" y="630" width="1" height="12" fill="#c0c0c0"/>
<rect x="625" y="630" width="1" height="13" fill="#c0c0c0"/>
<rect x="633" y="630" width="1" height="11" fill="#c0c0c0"/>
<rect x="641" y="630" width="1" height="8" fill="#c0c0c0"/>
<rect x="649" y="630" width="1" height="9" fill="#c0c0c0"/>
<rect x="657" y="630" width="1" height="10" fill="#c0c0c0"/>
<rect x="665" y="630" width="1" height="11" fill="#c0c0c0"/>
<rect x="673" y="630" width="1" height="13" fill="#c0c0c0"/>
<rect x="681" y="630" width="1" height="17" fill="#c0c0c0"/>
<rect x="689" y="630" width="1" height="20" fill="#c0c0c0"/>
<rect x="697" y="630" width="1" height="24" fill="#c0c0c0"/>
<rect x="705" y="630" width="1" height="22" fill="#c0c0c0"/>
<rect x="713" y="630" width="1" height="24" fill="#c0c0c0"/>
<rect x="721" y="630" width="1" height="23" fill="#c0c0c0"/>
<rect x="729" y="630" width="1" height="20" fill="#c0c0c0"/>
<rect x="737" y="630" width="1" height="25" fill="#c0c0c0"/>
<rect x="745" y="630" width="1" height="29" fill="#c0c0c0"/>
<rect x="753" y="630" width="1" height="29" fill="#c0c0c0"/>
<rect x="761" y="630" width="1" height="27" fill="#c0c0c0"/>
<rect x="769" y="630" width="1" height="26" fill="#c0c0c0"/>
<rect x="777" y="630" width="1" height="27" fill="#c0c0c0"/>
<rect x="785" y="630" width="1" height="24" fill="#c0c0c0"/>
<rect x="793" y="630" width="1" height="20" fill="#c0c0c0"/>
<rect x="801" y="630" width="1" height="13" fill="#c0c0c0"/>
<rect x="809" y="630" width="1" height="3" fill="#c0c0c0"/>
<rect x="817" y="627" width="1" height="4" fill="#c0c0c0"/>
<rect x="825" y="622" width="1" height="9" fill="#c0c0c0"/>
<rect x="833" y="621" width="1" height="10" fill="#c0c0c0"/>
<rect x="841" y="624" width="1" height="7" fill="#c0c0c0"/>
<rect x="849" y="630" width="1" height="1" fill="#c0c0c0"/>
<rect x="857" y="630" width="1" height="16" fill="#c0c0c0"/>
<rect x="865" y="630" width="1" height="24" fill="#c0c0c0"/>
<rect x="873" y="630" width="1" height="32" fill="#c0c0c0"/>
<rect x="881" y="630" width="1" height="38" fill="#c0c0c0"/>
<rect x="889" y="630" width="1" height="41" fill="#c0c0c0"/>
<rect x="897" y="630" width="1" height="41" fill="#c0c0c0"/>
<rect x="905" y="630" width="1" height="47" fill="#c0c0c0"/>
<rect x="913" y="630" width="1" height="44" fill="#c0c0c0"/>
<rect x="921" y="630" width="1" height="41" fill="#c0c0c0"/>
<rect x="929" y="630" width="1" height="37" fill="#c0c0c0"/>
<rect x="937" y="630" width="1" height="33" fill="#c0c0c0"/>
<rect x="945" y="630" width="1" height="22" fill="#c0c0c0"/>
<rect x="953" y="630" width="1" height="10" fill="#c0c0c0"/>
<rect x="961" y="630" width="1" height="1" fill="#c0c0c0"/>
<rect x="969" y="630" width="1" height="1" fill="#c0c0c0"/>
<rect x="977" y="628" width="1" height="3" fill="#c0c0c0"/>
<rect x="985" y="625" width="1" height="6" fill="#c0c0c0"/>
<rect x="993" y="624" width="1" height="7" fill="#c0c0c0"/>
<rect x="1001" y="621" width="1" height="10" fill="#c0c0c0"/>
<rect x="1009" y="622" width="1" height="9" fill="#c0c0c0"/>
<rect x="1017" y="622" width="1" height="9" fill="#c0c0c0"/>
<rect x="1025" y="620" width="1" height="11" fill="#c0c0c0"/>
<rect x="1033" y="619" width="1" height="12" fill="#c0c0c0"/>
<rect x="1041" y="625" width="1" height="6" fill="#c0c0c0"/>
<rect x="1049" y="630" width="1" height="1" fill="#c0c0c0"/>
<rect x="1057" y="630" width="1" height="14" fill="#c0c0c0"/>
<rect x="1065" y="630" width="1" height="25" fill="#c0c0c0"/>
<rect x="1073" y="630" width="1" height="30" fill="#c0c0c0"/>
<rect x="1081" y="630" width="1" height="35" fill="#c0c0c0"/>
<rect x="1089" y="630" width="1" height="35" fill="#c0c0c0"/>
<rect x="1097" y="630" width="1" height="43" fill="#c0c0c0"/>
<rect x="1105" y="630" width="1" height="52" fill="#c0c0c0"/>
<rect x="1113" y="630" width="1" height="57" fill="#c0c0c0"/>
<rect x="1121" y="630" width="1" height="61" fill="#c0c0c0"/>
<rect x="1129" y="630" width="1" height="62" fill="#c0c0c0"/>
<rect x="1137" y="630" width="1" height="64" fill="#c0c0c0"/>
<rect x="1145" y="630" width="1" height="51" fill="#c0c0c0"/>
<rect x="1153" y="630" width="1" height="41" fill="#c0c0c0"/>
<rect x="1161" y="630" width="1" height="28" fill="#c0c0c0"/>
<rect x="1169" y="630" width="1" height="23" fill="#c0c0c0"/>
<rect x="1177" y="630" width="1" height="21" fill="#c0c0c0"/>
<rect x="1185" y="630" width="1" height="18" fill="#c0c0c0"/>
<rect x="1193" y="630" width="1" height="7" fill="#c0c0c0"/>
<rect x="1201" y="630" width="1" height="1" fill="#c0c0c0"/>
<rect x="1209" y="630" width="1" height="1" fill="#c0c0c0"/>
<rect x="1217" y="627" width="1" height="4" fill="#c0c0c0"/>
<rect x="1225" y="624" width="1" height="7" fill="#c0c0c0"/>
<rect x="1233" y="620" width="1" height="11" fill="#c0c0c0"/>
<rect x="1241" y="613" width="1" height="18" fill="#c0c0c0"/>
<rect x="1249" y="606" width="1" height="25" fill="#c0c0c0"/>
<rect x="1257" y="604" width="1" height="27" fill="#c0c0c0"/>
<rect x="1265" y="604" width="1" height="27" fill="#c0c0c0"/>
<rect x="1273" y="605" width="1" height="26" fill="#c0c0c0"/>
<rect x="1281" y="604" width="1" height="27" fill="#c0c0c0"/>
<rect x="1289" y="601" width="1" height="30" fill="#c0c0c0"/>
<rect x="1297" y="595" width="1" height="36" fill="#c0c0c0"/>
<rect x="1305" y="593" width="1" height="38" fill="#c0c0c0"/>
<rect x="1313" y="590" width="1" height="41" fill="#c0c0c0"/>
<rect x="1321" y="586" width="1" height="45" fill="#c0c0c0"/>
<rect x="1329" y="583" width="1" height="48" fill="#c0c0c0"/>
<rect x="1337" y="578" width="1" height="53" fill="#c0c0c0"/>
<rect x="1345" y="575" width="1" height="56" fill="#c0c0c0"/>
<rect x="1353" y="573" width="1" height="58" fill="#c0c0c0"/>
<rect x="1361" y="573" width="1" height="58" fill="#c0c0c0"/>
<rect x="1369" y="576" width="1" height="55" fill="#c0c0c0"/>
<rect x="1377" y="580" width="1" height="51" fill="#c0c0c0"/>
<rect x="1385" y="584" width="1" height="47" fill="#c0c0c0"/>
<rect x="1393" y="584" width="1" height="47" fill="#c0c0c0"/>
<rect x="1401" y="584" width="1" height="47" fill="#c0c0c0"/>
<rect x="1409" y="583" width="1" height="48" fill="#c0c0c0"/>
<rect x="1417" y="583" width="1" height="48" fill="#c0c0c0"/>
<rect x="1425" y="585" width="1" height="46" fill="#c0c0c0"/>
<rect x="1433" y="586" width="1" height="45" fill="#c0c0c0"/>
<rect x="1441" y="590" width="1" height="41" fill="#c0c0c0"/>
<rect x="1449" y="587" width="1" height="44" fill="#c0c0c0"/>
<rect x="1457" y="587" width="1" height="44" fill="#c0c0c0"/>
<rect x="1465" y="585" width="1" height="46" fill="#c0c0c0"/>
<rect x="1473" y="585" width="1" height="46" fill="#c0c0c0"/>
<rect x="1481" y="584" width="1" height="47" fill="#c0c0c0"/>
<rect x="1489" y="586" width="1" height="45" fill="#c0c0c0"/>
<rect x="1497" y="587" width="1" height="44" fill="#c0c0c0"/>
<rect x="1505" y="591" width="1" height="40" fill="#c0c0c0"/>
<rect x="1513" y="595" width="1" height="36" fill="#c0c0c0"/>
<rect x="1521" y="599" width="1" height="32" fill="#c0c0c0"/>
<rect x="1529" y="604" width="1" height="27" fill="#c0c0c0"/>
<rect x="1537" y="609" width="1" height="22" fill="#c0c0c0"/>
<rect x="1545" y="608" width="1" height="23" fill="#c0c0c0"/>
<rect x="1553" y="606" width="1" height="25" fill="#c0c0c0"/>
<rect x="1561" y="607" width="1" height="24" fill="#c0c0c0"/>
<rect x="1569" y="609" width="1" height="22" fill="#c0c0c0"/>
<rect x="1577" y="614" width="1" height="17" fill="#c0c0c0"/>
<rect x="1585" y="616" width="1" height="15" fill="#c0c0c0"/>
<rect x="1593" y="625" width="1" height="6" fill="#c0c0c0"/>
<rect x="1601" y="630" width="1" height="1" fill="#c0c0c0"/>
<rect x="1609" y="630" width="1" height="6" fill="#c0c0c0"/>
<rect x="1617" y="630" width="1" height="9" fill="#c0c0c0"/>
<rect x="1625" y="630" width="1" height="11" fill="#c0c0c0"/>
<rect x="1633" y="630" width="1" height="14" fill="#c0c0c0"/>
<rect x="1641" y="630" width="1" height="18" fill="#c0c0c0"/>
<rect x="1649" y="630" width="1" height="21" fill="#c0c0c0"/>
<rect x="1657" y="630" width="1" height="24" fill="#c0c0c0"/>
</g>
<g clip-path="url(#cd)" shape-rendering="crispEdges"><polyline points="0.8,659.4 16.3,645.5 32.5,627.6 48.8,612.2 56.9,606.5 68.3,600.8 81.4,596.7 97.6,594.3 113.9,593.5 135.0,590.2 146.4,587.0 162.7,582.9 175.7,579.3 195.2,576.1 211.5,575.6 235.9,575.6 252.2,576.7 260.3,578.8 278.2,580.9 292.3,582.1 308.5,586.2 324.8,590.2 341.1,592.7 357.4,598.4 373.6,603.6 389.9,607.3 406.2,609.7 422.4,610.2 438.7,608.3 455.0,605.4 471.2,601.6 487.5,599.5 495.7,598.4 516.8,600.5 536.3,605.7 552.0,612.2 568.3,617.9 584.5,623.6 600.8,628.5 617.1,632.0 633.4,636.3 649.6,639.4 665.9,640.7 682.2,642.3 698.4,644.7 714.7,647.2 731.0,650.4 747.3,653.7 763.5,655.5 779.8,656.4 799.3,655.5 812.3,650.9 828.0,642.8 844.3,636.6 860.5,633.3 871.9,634.2 885.0,640.7 896.3,648.8 909.4,659.4 920.7,666.2 933.8,668.8 945.1,668.3 958.2,663.4 974.4,652.9 990.7,642.3 1007.0,630.9 1023.2,625.2 1033.0,622.4 1050.9,622.4 1063.9,626.8 1080.2,636.6 1091.6,642.8 1104.0,654.2 1120.3,669.1 1136.5,678.6 1152.8,682.1 1169.1,679.7 1185.4,670.4 1201.6,657.7 1217.9,644.4 1234.2,635.3 1250.4,625.5 1266.7,616.7 1283.0,610.2 1299.2,604.9 1315.5,598.4 1331.8,593.5 1348.1,587.5 1364.3,581.3 1380.0,578.3 1412.5,578.3 1428.8,581.0 1445.1,583.7 1461.4,584.5 1477.6,585.3 1500.4,585.3 1510.2,586.5 1518.3,587.0 1534.6,591.8 1550.8,596.7 1567.1,601.1 1583.4,607.3 1599.7,613.0 1615.9,618.7 1632.2,627.6 1648.5,636.6 1658.2,640.7" fill="none" stroke="#ff0000" stroke-width="1" stroke-dasharray="3 3"/></g>
<text transform="translate(5.52 577) scale(0.887 1)" fill="#000" font-size="9.5" font-family="'DejaVu Sans','Liberation Sans',sans-serif">MACD(12,26,9) -10.7839 -4.9557</text>
<g shape-rendering="crispEdges">
<line x1="2" y1="739.5" x2="1676" y2="739.5" stroke="#c0c0c0" stroke-dasharray="3 3"/>
<line x1="2" y1="785.5" x2="1676" y2="785.5" stroke="#c0c0c0" stroke-dasharray="3 3"/>
</g>
<g clip-path="url(#cr)" shape-rendering="crispEdges"><polyline points="1.5,749.1 9.5,747.4 17.5,749.1 25.5,749.1 33.5,746.5 41.5,749.6 49.5,754.5 57.5,751.3 65.5,751.3 73.5,757.0 81.5,756.0 89.5,755.2 97.5,749.1 105.5,746.0 113.5,744.3 121.5,743.0 129.5,741.8 137.5,740.1 145.5,741.8 153.5,743.0 161.5,741.3 169.5,740.1 177.5,738.4 185.5,740.6 193.5,740.6 201.5,739.4 209.5,740.6 217.5,736.2 225.5,738.2 233.5,738.4 241.5,742.3 249.5,742.3 257.5,739.6 265.5,741.6 273.5,737.2 281.5,736.2 289.5,739.4 297.5,754.5 305.5,748.4 313.5,752.3 321.5,753.3 329.5,751.6 337.5,748.4 345.5,752.3 353.5,758.2 361.5,753.5 369.5,757.2 377.5,758.2 385.5,758.2 393.5,749.9 401.5,752.3 409.5,742.3 417.5,740.6 425.5,737.2 433.5,739.4 441.5,738.4 449.5,737.2 457.5,737.2 465.5,741.1 473.5,736.2 481.5,743.0 489.5,742.3 497.5,757.0 505.5,759.4 513.5,766.2 521.5,761.3 529.5,763.3 537.5,763.3 545.5,769.9 553.5,766.2 561.5,759.4 569.5,764.5 577.5,768.7 585.5,770.4 593.5,780.4 601.5,766.2 609.5,770.4 617.5,775.3 625.5,767.4 633.5,763.1 641.5,759.4 649.5,767.4 657.5,769.9 665.5,768.2 673.5,771.1 681.5,777.9 689.5,779.2 697.5,777.9 705.5,768.2 713.5,774.3 721.5,769.2 729.5,767.4 737.5,779.2 745.5,779.2 753.5,772.3 761.5,770.4 769.5,771.1 777.5,772.3 785.5,767.0 793.5,763.1 801.5,751.1 809.5,746.7 817.5,748.4 825.5,750.4 833.5,756.5 841.5,763.8 849.5,778.4 857.5,782.8 865.5,781.4 873.5,783.3 881.5,783.3 889.5,779.2 897.5,776.0 905.5,783.3 913.5,770.4 921.5,769.2 929.5,765.5 937.5,766.2 945.5,754.0 953.5,750.4 961.5,751.1 969.5,757.2 977.5,760.1 985.5,757.2 993.5,758.2 1001.5,755.2 1009.5,761.3 1017.5,760.1 1025.5,756.5 1033.5,756.5 1041.5,769.2 1049.5,772.3 1057.5,782.1 1065.5,783.3 1073.5,776.5 1081.5,777.2 1089.5,771.1 1097.5,781.4 1105.5,783.3 1113.5,781.4 1121.5,782.6 1129.5,778.4 1137.5,781.6 1145.5,759.6 1153.5,758.4 1161.5,755.2 1169.5,761.8 1177.5,764.3 1185.5,763.3 1193.5,753.5 1201.5,757.2 1209.5,760.6 1217.5,757.2 1225.5,757.2 1233.5,754.8 1241.5,749.9 1249.5,748.4 1257.5,754.5 1265.5,757.2 1273.5,756.0 1281.5,755.2 1289.5,749.1 1297.5,746.2 1305.5,750.4 1313.5,747.4 1321.5,745.5 1329.5,745.5 1337.5,741.3 1345.5,741.3 1353.5,742.3 1361.5,741.3 1369.5,749.9 1377.5,754.0 1385.5,752.3 1393.5,748.7 1401.5,745.5 1409.5,743.5 1417.5,746.7 1425.5,748.4 1433.5,747.4 1441.5,754.0 1449.5,744.3 1457.5,746.0 1465.5,744.3 1473.5,744.3 1481.5,743.0 1489.5,743.0 1497.5,749.1 1505.5,752.8 1513.5,756.0 1521.5,756.0 1529.5,762.6 1537.5,765.0 1545.5,751.6 1553.5,748.7 1561.5,754.0 1569.5,759.6 1577.5,765.0 1585.5,759.6 1593.5,775.3 1601.5,773.5 1609.5,773.5 1617.5,770.4 1625.5,770.4 1633.5,772.3 1641.5,776.5 1649.5,777.2 1657.5,777.2" fill="none" stroke="#1e90ff" stroke-width="1"/></g>
<text transform="translate(5.22 716) scale(0.886 1)" fill="#000" font-size="9.5" font-family="'DejaVu Sans','Liberation Sans',sans-serif">RSI(14) 36.8437</text>
<g shape-rendering="crispEdges" fill="#000">
<rect x="0" y="4" width="1677" height="1" fill="#000"/>
<rect x="0" y="562" width="1677" height="1" fill="#000"/>
<rect x="0" y="4" width="1" height="559" fill="#000"/>
<rect x="1676" y="4" width="1" height="559" fill="#000"/>
<rect x="0" y="564" width="1677" height="1" fill="#000"/>
<rect x="0" y="701" width="1677" height="1" fill="#000"/>
<rect x="0" y="564" width="1" height="138" fill="#000"/>
<rect x="1676" y="564" width="1" height="138" fill="#000"/>
<rect x="0" y="703" width="1677" height="1" fill="#000"/>
<rect x="0" y="820" width="1677" height="1" fill="#000"/>
<rect x="0" y="703" width="1" height="118" fill="#000"/>
<rect x="1676" y="703" width="1" height="118" fill="#000"/>
</g>
<rect x="1677" y="31" width="2" height="1" fill="#000"/>
<text transform="translate(1681.93 35) scale(0.855 1)" fill="#000" font-size="9.5" font-family="'DejaVu Sans','Liberation Sans',sans-serif">3980.250</text>
<rect x="1677" y="64" width="2" height="1" fill="#000"/>
<text transform="translate(1681.93 68) scale(0.855 1)" fill="#000" font-size="9.5" font-family="'DejaVu Sans','Liberation Sans',sans-serif">3963.750</text>
<rect x="1677" y="97" width="2" height="1" fill="#000"/>
<text transform="translate(1681.93 101) scale(0.855 1)" fill="#000" font-size="9.5" font-family="'DejaVu Sans','Liberation Sans',sans-serif">3947.250</text>
<rect x="1677" y="130" width="2" height="1" fill="#000"/>
<text transform="translate(1681.93 134) scale(0.855 1)" fill="#000" font-size="9.5" font-family="'DejaVu Sans','Liberation Sans',sans-serif">3930.250</text>
<rect x="1677" y="163" width="2" height="1" fill="#000"/>
<text transform="translate(1681.93 167) scale(0.855 1)" fill="#000" font-size="9.5" font-family="'DejaVu Sans','Liberation Sans',sans-serif">3913.750</text>
<rect x="1677" y="196" width="2" height="1" fill="#000"/>
<text transform="translate(1681.93 200) scale(0.855 1)" fill="#000" font-size="9.5" font-family="'DejaVu Sans','Liberation Sans',sans-serif">3897.250</text>
<rect x="1677" y="229" width="2" height="1" fill="#000"/>
<text transform="translate(1681.93 233) scale(0.855 1)" fill="#000" font-size="9.5" font-family="'DejaVu Sans','Liberation Sans',sans-serif">3880.750</text>
<rect x="1677" y="262" width="2" height="1" fill="#000"/>
<text transform="translate(1681.93 266) scale(0.855 1)" fill="#000" font-size="9.5" font-family="'DejaVu Sans','Liberation Sans',sans-serif">3864.250</text>
<rect x="1677" y="295" width="2" height="1" fill="#000"/>
<text transform="translate(1681.93 299) scale(0.855 1)" fill="#000" font-size="9.5" font-family="'DejaVu Sans','Liberation Sans',sans-serif">3847.750</text>
<rect x="1677" y="328" width="2" height="1" fill="#000"/>
<text transform="translate(1681.93 332) scale(0.855 1)" fill="#000" font-size="9.5" font-family="'DejaVu Sans','Liberation Sans',sans-serif">3831.250</text>
<rect x="1677" y="361" width="2" height="1" fill="#000"/>
<text transform="translate(1681.93 365) scale(0.855 1)" fill="#000" font-size="9.5" font-family="'DejaVu Sans','Liberation Sans',sans-serif">3814.250</text>
<rect x="1677" y="394" width="2" height="1" fill="#000"/>
<text transform="translate(1681.93 398) scale(0.855 1)" fill="#000" font-size="9.5" font-family="'DejaVu Sans','Liberation Sans',sans-serif">3797.750</text>
<rect x="1677" y="427" width="2" height="1" fill="#000"/>
<text transform="translate(1681.93 431) scale(0.855 1)" fill="#000" font-size="9.5" font-family="'DejaVu Sans','Liberation Sans',sans-serif">3781.250</text>
<rect x="1677" y="460" width="2" height="1" fill="#000"/>
<text transform="translate(1681.93 464) scale(0.855 1)" fill="#000" font-size="9.5" font-family="'DejaVu Sans','Liberation Sans',sans-serif">3764.750</text>
<rect x="1677" y="493" width="2" height="1" fill="#000"/>
<text transform="translate(1681.93 497) scale(0.855 1)" fill="#000" font-size="9.5" font-family="'DejaVu Sans','Liberation Sans',sans-serif">3748.250</text>
<rect x="1677" y="526" width="2" height="1" fill="#000"/>
<text transform="translate(1681.93 530) scale(0.855 1)" fill="#000" font-size="9.5" font-family="'DejaVu Sans','Liberation Sans',sans-serif">3731.750</text>
<rect x="1677" y="559" width="2" height="1" fill="#000"/>
<text transform="translate(1681.93 563) scale(0.855 1)" fill="#000" font-size="9.5" font-family="'DejaVu Sans','Liberation Sans',sans-serif">3715.250</text>
<rect x="1678" y="85" width="43" height="11" fill="#ff0000"/>
<text transform="translate(1681.93 94) scale(0.855 1)" fill="#fff" font-size="9.5" font-family="'DejaVu Sans','Liberation Sans',sans-serif">3950.000</text>
<rect x="1678" y="185" width="43" height="11" fill="#32cd32"/>
<text transform="translate(1681.93 194) scale(0.855 1)" fill="#fff" font-size="9.5" font-family="'DejaVu Sans','Liberation Sans',sans-serif">3900.000</text>
<rect x="1678" y="198" width="43" height="11" fill="#000000"/>
<text transform="translate(1681.93 207) scale(0.855 1)" fill="#fff" font-size="9.5" font-family="'DejaVu Sans','Liberation Sans',sans-serif">3894.000</text>
<rect x="1678" y="284" width="43" height="11" fill="#4169e1"/>
<text transform="translate(1681.93 293) scale(0.855 1)" fill="#fff" font-size="9.5" font-family="'DejaVu Sans','Liberation Sans',sans-serif">3850.000</text>
<rect x="1678" y="364" width="43" height="11" fill="#4169e1"/>
<text transform="translate(1681.93 373) scale(0.855 1)" fill="#fff" font-size="9.5" font-family="'DejaVu Sans','Liberation Sans',sans-serif">3810.000</text>
<rect x="1677" y="566" width="2" height="1" fill="#000"/>
<text transform="translate(1680.03 575) scale(0.86 1)" fill="#000" font-size="9.5" font-family="'DejaVu Sans','Liberation Sans',sans-serif">29.3605</text>
<rect x="1677" y="630" width="2" height="1" fill="#000"/>
<text transform="translate(1680.03 634) scale(0.86 1)" fill="#000" font-size="9.5" font-family="'DejaVu Sans','Liberation Sans',sans-serif">0.00</text>
<rect x="1677" y="700" width="2" height="1" fill="#000"/>
<text transform="translate(1680.03 698) scale(0.86 1)" fill="#000" font-size="9.5" font-family="'DejaVu Sans','Liberation Sans',sans-serif">-32.1096</text>
<rect x="1677" y="705" width="2" height="1" fill="#000"/>
<text transform="translate(1680.33 714) scale(0.86 1)" fill="#000" font-size="9.5" font-family="'DejaVu Sans','Liberation Sans',sans-serif">100</text>
<rect x="1677" y="739" width="2" height="1" fill="#000"/>
<text transform="translate(1680.33 744) scale(0.86 1)" fill="#000" font-size="9.5" font-family="'DejaVu Sans','Liberation Sans',sans-serif">70</text>
<rect x="1677" y="785" width="2" height="1" fill="#000"/>
<text transform="translate(1680.33 789) scale(0.86 1)" fill="#000" font-size="9.5" font-family="'DejaVu Sans','Liberation Sans',sans-serif">30</text>
<rect x="1677" y="819" width="2" height="1" fill="#000"/>
<text transform="translate(1680.33 817) scale(0.86 1)" fill="#000" font-size="9.5" font-family="'DejaVu Sans','Liberation Sans',sans-serif">0</text>
<rect x="1" y="821" width="1" height="3" fill="#000"/>
<text transform="translate(0.32 833) scale(0.905 1)" fill="#000" font-size="9.5" font-family="'DejaVu Sans','Liberation Sans',sans-serif">2 Feb 2021</text>
<rect x="65" y="821" width="1" height="3" fill="#000"/>
<text transform="translate(64.32 833) scale(0.905 1)" fill="#000" font-size="9.5" font-family="'DejaVu Sans','Liberation Sans',sans-serif">3 Feb 20:00</text>
<rect x="129" y="821" width="1" height="3" fill="#000"/>
<text transform="translate(128.32 833) scale(0.905 1)" fill="#000" font-size="9.5" font-family="'DejaVu Sans','Liberation Sans',sans-serif">5 Feb 04:00</text>
<rect x="193" y="821" width="1" height="3" fill="#000"/>
<text transform="translate(192.32 833) scale(0.905 1)" fill="#000" font-size="9.5" font-family="'DejaVu Sans','Liberation Sans',sans-serif">8 Feb 08:00</text>
<rect x="257" y="821" width="1" height="3" fill="#000"/>
<text transform="translate(256.32 833) scale(0.905 1)" fill="#000" font-size="9.5" font-family="'DejaVu Sans','Liberation Sans',sans-serif">9 Feb 16:00</text>
<rect x="321" y="821" width="1" height="3" fill="#000"/>
<text transform="translate(320.32 833) scale(0.905 1)" fill="#000" font-size="9.5" font-family="'DejaVu Sans','Liberation Sans',sans-serif">11 Feb 00:00</text>
<rect x="385" y="821" width="1" height="3" fill="#000"/>
<text transform="translate(384.32 833) scale(0.905 1)" fill="#000" font-size="9.5" font-family="'DejaVu Sans','Liberation Sans',sans-serif">12 Feb 08:00</text>
<rect x="449" y="821" width="1" height="3" fill="#000"/>
<text transform="translate(448.32 833) scale(0.905 1)" fill="#000" font-size="9.5" font-family="'DejaVu Sans','Liberation Sans',sans-serif">15 Feb 12:00</text>
<rect x="513" y="821" width="1" height="3" fill="#000"/>
<text transform="translate(512.32 833) scale(0.905 1)" fill="#000" font-size="9.5" font-family="'DejaVu Sans','Liberation Sans',sans-serif">16 Feb 20:00</text>
<rect x="577" y="821" width="1" height="3" fill="#000"/>
<text transform="translate(576.32 833) scale(0.905 1)" fill="#000" font-size="9.5" font-family="'DejaVu Sans','Liberation Sans',sans-serif">18 Feb 04:00</text>
<rect x="641" y="821" width="1" height="3" fill="#000"/>
<text transform="translate(640.32 833) scale(0.905 1)" fill="#000" font-size="9.5" font-family="'DejaVu Sans','Liberation Sans',sans-serif">19 Feb 12:00</text>
<rect x="705" y="821" width="1" height="3" fill="#000"/>
<text transform="translate(704.32 833) scale(0.905 1)" fill="#000" font-size="9.5" font-family="'DejaVu Sans','Liberation Sans',sans-serif">22 Feb 16:00</text>
<rect x="769" y="821" width="1" height="3" fill="#000"/>
<text transform="translate(768.32 833) scale(0.905 1)" fill="#000" font-size="9.5" font-family="'DejaVu Sans','Liberation Sans',sans-serif">24 Feb 00:00</text>
<rect x="833" y="821" width="1" height="3" fill="#000"/>
<text transform="translate(832.32 833) scale(0.905 1)" fill="#000" font-size="9.5" font-family="'DejaVu Sans','Liberation Sans',sans-serif">25 Feb 08:00</text>
<rect x="897" y="821" width="1" height="3" fill="#000"/>
<text transform="translate(896.32 833) scale(0.905 1)" fill="#000" font-size="9.5" font-family="'DejaVu Sans','Liberation Sans',sans-serif">26 Feb 16:00</text>
<rect x="961" y="821" width="1" height="3" fill="#000"/>
<text transform="translate(960.32 833) scale(0.905 1)" fill="#000" font-size="9.5" font-family="'DejaVu Sans','Liberation Sans',sans-serif">1 Mar 20:00</text>
<rect x="1025" y="821" width="1" height="3" fill="#000"/>
<text transform="translate(1024.32 833) scale(0.905 1)" fill="#000" font-size="9.5" font-family="'DejaVu Sans','Liberation Sans',sans-serif">3 Mar 04:00</text>
<rect x="1089" y="821" width="1" height="3" fill="#000"/>
<text transform="translate(1088.32 833) scale(0.905 1)" fill="#000" font-size="9.5" font-family="'DejaVu Sans','Liberation Sans',sans-serif">4 Mar 12:00</text>
<rect x="1153" y="821" width="1" height="3" fill="#000"/>
<text transform="translate(1152.32 833) scale(0.905 1)" fill="#000" font-size="9.5" font-family="'DejaVu Sans','Liberation Sans',sans-serif">5 Mar 20:00</text>
<rect x="1217" y="821" width="1" height="3" fill="#000"/>
<text transform="translate(1216.32 833) scale(0.905 1)" fill="#000" font-size="9.5" font-family="'DejaVu Sans','Liberation Sans',sans-serif">9 Mar 00:00</text>
<rect x="1281" y="821" width="1" height="3" fill="#000"/>
<text transform="translate(1280.32 833) scale(0.905 1)" fill="#000" font-size="9.5" font-family="'DejaVu Sans','Liberation Sans',sans-serif">10 Mar 08:00</text>
<rect x="1345" y="821" width="1" height="3" fill="#000"/>
<text transform="translate(1344.32 833) scale(0.905 1)" fill="#000" font-size="9.5" font-family="'DejaVu Sans','Liberation Sans',sans-serif">11 Mar 16:00</text>
<rect x="1409" y="821" width="1" height="3" fill="#000"/>
<text transform="translate(1408.32 833) scale(0.905 1)" fill="#000" font-size="9.5" font-family="'DejaVu Sans','Liberation Sans',sans-serif">14 Mar 23:00</text>
<rect x="1473" y="821" width="1" height="3" fill="#000"/>
<text transform="translate(1472.32 833) scale(0.905 1)" fill="#000" font-size="9.5" font-family="'DejaVu Sans','Liberation Sans',sans-serif">16 Mar 04:00</text>
<rect x="1537" y="821" width="1" height="3" fill="#000"/>
<text transform="translate(1536.32 833) scale(0.905 1)" fill="#000" font-size="9.5" font-family="'DejaVu Sans','Liberation Sans',sans-serif">17 Mar 12:00</text>
<rect x="1601" y="821" width="1" height="3" fill="#000"/>
<text transform="translate(1600.32 833) scale(0.905 1)" fill="#000" font-size="9.5" font-family="'DejaVu Sans','Liberation Sans',sans-serif">18 Mar 20:00</text>
</svg></body></html>
